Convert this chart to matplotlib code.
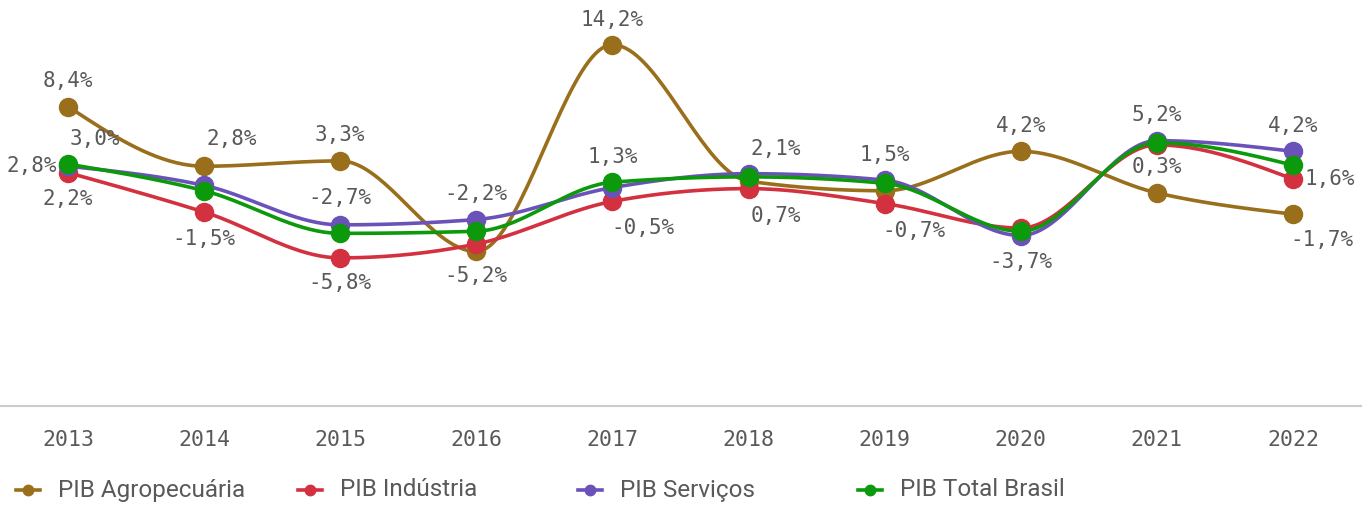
import numpy as np
import matplotlib
matplotlib.use("Agg")
import matplotlib.pyplot as plt
from matplotlib.lines import Line2D

years = ["2013", "2014", "2015", "2016", "2017", "2018", "2019", "2020", "2021", "2022"]
series_names = ["PIB Agropecuária", "PIB Indústria", "PIB Serviços", "PIB Total Brasil"]
agro = [8.4, 2.8, 3.3, -5.2, 14.2, 1.4, 0.5, 4.2, 0.3, -1.7]
industria = [2.2, -1.5, -5.8, -4.5, -0.5, 0.7, -0.7, -3.0, 4.8, 1.6]
servicos = [2.8, 1.0, -2.7, -2.2, 0.8, 2.1, 1.5, -3.7, 5.2, 4.2]
total = [3.0, 0.5, -3.5, -3.3, 1.3, 1.8, 1.2, -3.3, 5.0, 2.9]
colors = ["#9A6F1C", "#D3313F", "#6B52B8", "#0C990C"]

# labels shown: (series index, year index, dx, dy in pixels)
label_specs = [
    (0, 0, 0, 26), (3, 0, 27, 25), (2, 0, -36, 0), (1, 0, 0, -26),
    (0, 1, 28, 27), (1, 1, 0, -27),
    (0, 2, 0, 26), (2, 2, 0, 27), (1, 2, 0, -25),
    (2, 3, 0, 26), (0, 3, 0, -25),
    (0, 4, 0, 25), (3, 4, 0, 25), (1, 4, 30, -27),
    (2, 5, 27, 25), (1, 5, 27, -27),
    (2, 6, 0, 25), (1, 6, 29, -27),
    (0, 7, 0, 25), (2, 7, 0, -26),
    (2, 8, 0, 26), (0, 8, 0, 26),
    (2, 9, 0, 25), (1, 9, 37, 0), (0, 9, 29, -26),
]

data = [agro, industria, servicos, total]


def monotone_curve(xs, ys, n=40):
    """d3 curveMonotoneX style rendering of the line through the points."""
    xs = np.asarray(xs, float)
    ys = np.asarray(ys, float)
    m = len(xs)
    h = np.diff(xs)
    s = np.diff(ys) / h
    t = np.zeros(m)
    for i in range(1, m - 1):
        s0, s1 = s[i - 1], s[i]
        h0, h1 = h[i - 1], h[i]
        p = (s0 * h1 + s1 * h0) / (h0 + h1)
        t[i] = (np.sign(s0) + np.sign(s1)) * min(abs(s0), abs(s1), 0.5 * abs(p))
    t[0] = (3 * s[0] - t[1]) / 2
    t[-1] = (3 * s[-1] - t[-2]) / 2
    ox, oy = [], []
    u = np.linspace(0, 1, n, endpoint=False)
    for i in range(m - 1):
        y0, y1 = ys[i], ys[i + 1]
        dx = h[i]
        h00 = 2 * u ** 3 - 3 * u ** 2 + 1
        h10 = u ** 3 - 2 * u ** 2 + u
        h01 = -2 * u ** 3 + 3 * u ** 2
        h11 = u ** 3 - u ** 2
        oy.append(h00 * y0 + h10 * dx * t[i] + h01 * y1 + h11 * dx * t[i + 1])
        ox.append(xs[i] + u * dx)
    ox.append([xs[-1]])
    oy.append([ys[-1]])
    return np.concatenate(ox), np.concatenate(oy)


fig = plt.figure(figsize=(13.70, 5.09), dpi=100)
ax = fig.add_axes([0, 1 - 406 / 509, 1361 / 1370, 406 / 509])
x = np.arange(len(years))
for vals, c in zip(data, colors):
    sx, sy = monotone_curve(x, vals)
    ax.plot(sx, sy, color=c, lw=2.6, solid_capstyle="round", zorder=2)
    ax.plot(x, vals, "o", color=c, ms=13, mec=c, zorder=3)

num_font = "DejaVu Sans Mono"
px2pt = 0.72
for si, yi, dx, dy in label_specs:
    v = data[si][yi]
    txt = f"{v:.1f}%".replace(".", ",")
    ax.annotate(txt, (x[yi], v), xytext=(dx * px2pt, dy * px2pt), textcoords="offset points",
                ha="center", va="center", fontsize=15, color="#595959",
                family=num_font, zorder=5)

ax.set_xlim(-0.5, 9.5)
ax.set_ylim(-19.7, 18.4)
for s in ["top", "right", "left"]:
    ax.spines[s].set_visible(False)
ax.spines["bottom"].set_color("#cccccc")
ax.spines["bottom"].set_linewidth(1.5)
ax.set_yticks([])
ax.set_xticks(x)
ax.set_xticklabels(years, family=num_font, fontsize=15.5, color="#595959")
ax.tick_params(axis="x", length=0, pad=17)

# legend entries
leg_x = [28, 310, 590, 870]
for lx, name, c in zip(leg_x, series_names, colors):
    fy = 1 - 490 / 509
    fig.add_artist(Line2D([(lx - 12) / 1370, (lx + 12) / 1370], [fy, fy], color=c, lw=2.6,
                          transform=fig.transFigure))
    fig.add_artist(Line2D([lx / 1370], [fy], marker="o", ms=7.5, color=c,
                          transform=fig.transFigure))
    fig.text((lx + 30) / 1370, fy, name, ha="left", va="center", fontsize=17.5,
             color="#595959", family="Roboto")

fig.savefig("out.png", dpi=100)
